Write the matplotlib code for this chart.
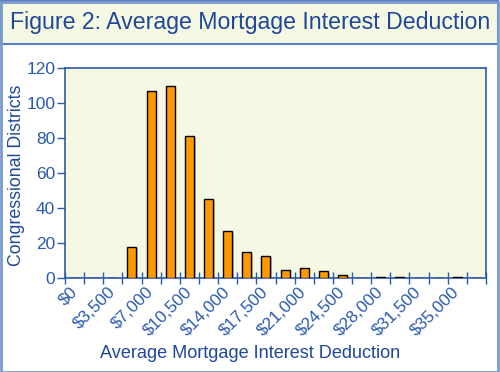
import matplotlib
matplotlib.use("Agg")
import matplotlib.pyplot as plt
import matplotlib.patheffects as pe
from matplotlib.patches import Rectangle
import numpy as np

plt.rcParams['font.family'] = ['Liberation Sans', 'DejaVu Sans']

# bin starts (dollars), width 1750
bin_starts = [i * 1750 for i in range(22)]
counts = [0, 0, 0, 18, 107, 110, 81, 45, 27, 15, 13, 5, 6, 4, 2, 0, 1, 1, 0, 0, 1, 0]
tick_labels = ['$0', '$3,500', '$7,000', '$10,500', '$14,000', '$17,500',
               '$21,000', '$24,500', '$28,000', '$31,500', '$35,000']
yticks = [0, 20, 40, 60, 80, 100, 120]

title = 'Figure 2: Average Mortgage Interest Deduction'
xlabel = 'Average Mortgage Interest Deduction'
ylabel = 'Congressional Districts'

blue_text = '#1F479A'
tick_blue = '#2A5AAE'
axis_blue = '#2C5BA8'
cream = '#F5F8E3'

W, H = 500, 372
fig = plt.figure(figsize=(W / 100, H / 100), dpi=100)
fig.patch.set_facecolor('white')

# title box
fig.patches.append(Rectangle((1 / W, 1 - 44 / H), 1 - 3 / W, 43 / H, transform=fig.transFigure,
                             facecolor=cream, edgecolor='#5A80C0', linewidth=1.5, zorder=0))
fig.text(0.5, 1 - 22 / H, title, ha='center', va='center', fontsize=16.7, color=blue_text)
# figure border
fig.patches.append(Rectangle((0.5 / W, 0.5 / H), 1 - 2.5 / W, 1 - 2 / H, transform=fig.transFigure,
                             facecolor='none', edgecolor='#7B9BCF', linewidth=2, zorder=0))

ax = fig.add_axes([65 / W, (H - 278.3) / H, (486 - 65) / W, (278.3 - 68) / H])
ax.set_facecolor(cream)

x = np.arange(len(bin_starts))
bars = ax.bar(x, counts, width=0.47, color='#FF9900', edgecolor='black', linewidth=1.0, zorder=3)
for b in bars:
    b.set_path_effects([pe.SimplePatchShadow(offset=(1.2, -1.2), shadow_rgbFace='gray', alpha=0.5),
                        pe.Normal()])

ax.set_xlim(-0.5, len(bin_starts) - 0.5)
ax.set_ylim(0, 120)

label_pos = [bin_starts.index(int(l.replace('$', '').replace(',', ''))) for l in tick_labels]
ax.set_xticks(label_pos)
ax.set_xticklabels(tick_labels, rotation=45, ha='right', va='center', rotation_mode='anchor',
                   fontsize=12.3, color=tick_blue)
ax.set_xticks(np.arange(-0.5, len(bin_starts), 1), minor=True)
ax.tick_params(axis='x', which='major', length=0, pad=8)
ax.tick_params(axis='x', which='minor', length=8, direction='inout', color=axis_blue, width=1)

ax.set_yticks(yticks)
ax.set_yticklabels([str(v) for v in yticks], fontsize=12.5, color=tick_blue)
ax.tick_params(axis='y', length=6, direction='out', color=axis_blue, width=1, pad=1)

for s in ax.spines.values():
    s.set_color(axis_blue)
    s.set_linewidth(1.2)

fig.text(250 / W, 1 - 353 / H, xlabel, ha='center', va='center', fontsize=13.1, color=blue_text)
fig.text(17 / W, 1 - 175 / H, ylabel, ha='center', va='center', rotation=90,
         fontsize=12.8, color=blue_text)

fig.savefig('out.png', dpi=100, facecolor='white')
